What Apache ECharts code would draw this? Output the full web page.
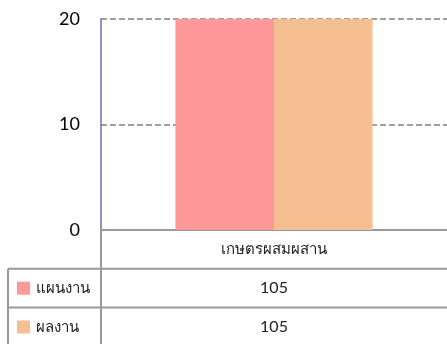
<!DOCTYPE html>
<html>
<head>
<meta charset="utf-8">
<script src="https://cdn.jsdelivr.net/npm/echarts@6/dist/echarts.min.js"></script>
<style>
  html, body { margin: 0; padding: 0; background: #fff; }
  #main { width: 447px; height: 344px; }
</style>
</head>
<body>
<div id="main"></div>
<script>
// data
var categories = ["เกษตรผสมผสาน"];
var planValues = [105];
var actualValues = [105];
var seriesNames = ["แผนงาน", "ผลงาน"];
var seriesColors = ["#ff9999", "#f6bf91"];
var yTicks = [0, 10, 20];

var chart = echarts.init(document.getElementById("main"));
var font = "Lato, 'Noto Sans', sans-serif";

var option = {
  animation: false,
  grid: { left: 101, top: 19, width: 352, bottom: 114 },
  xAxis: {
    type: "category",
    data: categories,
    axisLine: { show: true, lineStyle: { color: "#999999", width: 2 } },
    axisTick: { show: false },
    axisLabel: { margin: 12, fontSize: 15, color: "#222", fontFamily: font }
  },
  yAxis: {
    type: "value",
    min: yTicks[0],
    max: yTicks[yTicks.length - 1],
    interval: 10,
    axisLine: { show: true, lineStyle: { color: "#7f64b4", width: 1.5 } },
    axisTick: { show: false },
    axisLabel: { margin: 21, fontSize: 18, color: "#000", fontFamily: font },
    splitLine: { lineStyle: { color: "#808080", width: 1.5, type: [6, 3] } }
  },
  series: [
    { name: seriesNames[0], type: "bar", data: planValues, barGap: "0%", barCategoryGap: "43%",
      itemStyle: { color: seriesColors[0] }, clip: true },
    { name: seriesNames[1], type: "bar", data: actualValues,
      itemStyle: { color: seriesColors[1] }, clip: true }
  ]
};
chart.setOption(option);

// data table under the axis
function drawTable() {
  var top = chart.convertToPixel({ yAxisIndex: 0 }, 0);
  var axisLeft = 101, tableLeft = 8, right = 447, rowH = 38.8;
  var lineStyle = { stroke: "#999999", lineWidth: 2 };
  var els = [];
  var rows = [planValues, actualValues];
  // vertical lines
  els.push({ type: "line", shape: { x1: axisLeft, y1: top, x2: axisLeft, y2: 344 }, style: lineStyle });
  els.push({ type: "line", shape: { x1: tableLeft, y1: top + rowH, x2: tableLeft, y2: 344 }, style: lineStyle });
  rows.forEach(function (vals, r) {
    var y = top + rowH * (r + 1);
    els.push({ type: "line", shape: { x1: tableLeft, y1: y, x2: right, y2: y }, style: lineStyle });
    var cy = y + rowH / 2;
    els.push({ type: "rect", shape: { x: 17, y: cy - 6.5, width: 13, height: 13 },
      style: { fill: seriesColors[r] } });
    els.push({ type: "text", x: 36, y: cy, style: { text: seriesNames[r], fontSize: 15,
      fontFamily: font, fill: "#222", verticalAlign: "middle" } });
    vals.forEach(function (v, i) {
      var cx = chart.convertToPixel({ xAxisIndex: 0 }, categories[i]);
      els.push({ type: "text", x: cx, y: cy, style: { text: String(v), fontSize: 16,
        fontFamily: font, fill: "#222", align: "center", verticalAlign: "middle" } });
    });
  });
  chart.setOption({ graphic: { elements: els } });
}
drawTable();
</script>
</body>
</html>
